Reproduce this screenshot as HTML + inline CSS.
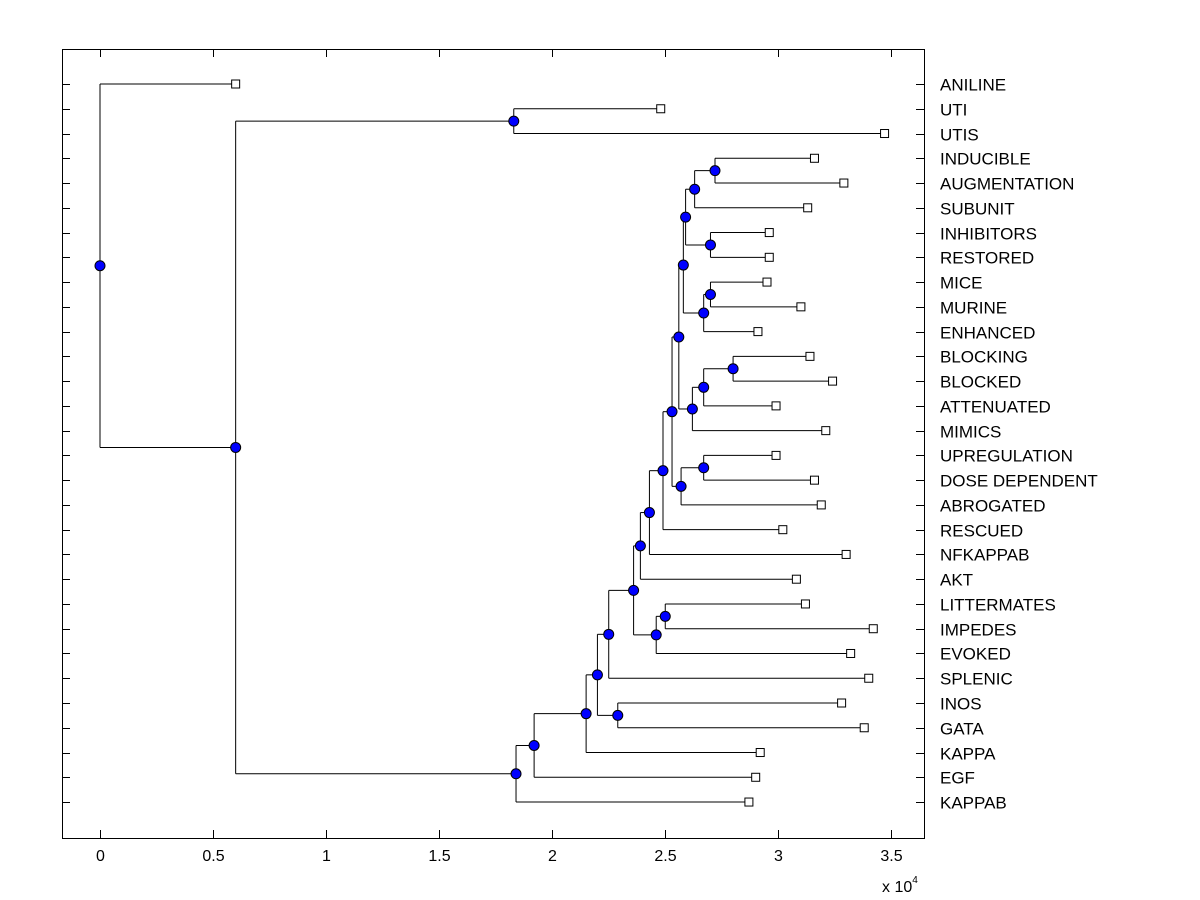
<!DOCTYPE html>
<html><head><meta charset="utf-8"><style>body{margin:0;background:#fff}svg{display:block}text{font-family:"Liberation Sans",Arial,sans-serif;font-size:16px;fill:#000}</style></head>
<body>
<svg id="chart" width="1200" height="900" viewBox="0 0 1200 900"></svg>
<script>
const leafLabels = ["ANILINE","UTI","UTIS","INDUCIBLE","AUGMENTATION","SUBUNIT","INHIBITORS","RESTORED","MICE","MURINE","ENHANCED","BLOCKING","BLOCKED","ATTENUATED","MIMICS","UPREGULATION","DOSE DEPENDENT","ABROGATED","RESCUED","NFKAPPAB","AKT","LITTERMATES","IMPEDES","EVOKED","SPLENIC","INOS","GATA","KAPPA","EGF","KAPPAB"];
const leafValues = [0.60,2.48,3.47,3.16,3.29,3.13,2.96,2.96,2.95,3.10,2.91,3.14,3.24,2.99,3.21,2.99,3.16,3.19,3.02,3.30,3.08,3.12,3.42,3.32,3.40,3.28,3.38,2.92,2.90,2.87];
// internal nodes: [value, child, child]; numbers = leaf index
const tree = [0.0, 0, [0.60,
  [1.83, 1, 2],
  [1.84, [1.92, [2.15, [2.20, [2.25, [2.36, [2.39, [2.43, [2.49, [2.53,
      [2.56, [2.58, [2.59, [2.63, [2.72, 3, 4], 5], [2.70, 6, 7]], [2.67, [2.70, 8, 9], 10]],
              [2.62, [2.67, [2.80, 11, 12], 13], 14]],
      [2.57, [2.67, 15, 16], 17]], 18], 19], 20],
      [2.46, [2.50, 21, 22], 23]], 24], [2.29, 25, 26]], 27], 28], 29]]];
const xTicks = [0,0.5,1,1.5,2,2.5,3,3.5];
const xTickLabels = ["0","0.5","1","1.5","2","2.5","3","3.5"];

const svg = document.getElementById('chart');
const NS = 'http://www.w3.org/2000/svg';
const L = 62, R = 924, T = 49, B = 838;
const xs = v => 100 + v * 226.1;
const ys = i => 84 + i * 24.76;
function mk(tag, attrs, parent) {
  const e = document.createElementNS(NS, tag);
  for (const k in attrs) e.setAttribute(k, attrs[k]);
  (parent || svg).appendChild(e); return e;
}
const lines = mk('g', {stroke:'#000','stroke-width':1,fill:'none'});


const marks = mk('g', {});


const nodes = [];
function draw(n) {
  if (typeof n === 'number') {
    const p = {x: xs(leafValues[n]), y: ys(n), leaf: n};
    nodes.push(p); return p;
  }
  const x = xs(n[0]);
  const kids = [draw(n[1]), draw(n[2])];
  const y = (kids[0].y + kids[1].y) / 2;
  mk('line', {x1:x, y1:kids[0].y, x2:x, y2:kids[1].y}, lines);
  kids.forEach(k => mk('line', {x1:x, y1:k.y, x2:k.x, y2:k.y}, lines));
  const p = {x, y}; nodes.push(p); return p;
}
draw(tree);
nodes.forEach(p => {
  if (p.leaf !== undefined) {
    const r = mk('rect', {x:p.x-4, y:p.y-4, width:8, height:8, fill:'#fff', stroke:'#000','stroke-width':1}, marks);
    
    
  } else {
    const c = mk('circle', {cx:p.x, cy:p.y, r:5, fill:'#0000ff', stroke:'#000','stroke-width':1}, marks);
    
    
  }
});
const ax = mk('rect', {x:L+0.5, y:T+0.5, width:R-L, height:B-T, fill:'none', stroke:'#000','stroke-width':1});


const ticks = mk('g', {stroke:'#000','stroke-width':1});


xTicks.forEach((v, i) => {
  const x = Math.round(xs(v)) + 0.5;
  mk('line', {x1:x, y1:B, x2:x, y2:B-8}, ticks);
  mk('line', {x1:x, y1:T, x2:x, y2:T+8}, ticks);
  const t = mk('text', {x:x, y:B+23, 'text-anchor':'middle'});
  t.textContent = xTickLabels[i];
  
  
});
leafLabels.forEach((lab, i) => {
  const y = Math.round(ys(i)) + 0.5;
  mk('line', {x1:L, y1:y, x2:L+8, y2:y}, ticks);
  mk('line', {x1:R, y1:y, x2:R-8, y2:y}, ticks);
  const t = mk('text', {x:940, y:y+6, 'font-size':17, style:'font-size:17px'});
  t.textContent = lab;
  
  
});
const ex = mk('text', {x:882, y:892, 'font-size':16});
ex.innerHTML = 'x 10<tspan dy="-9" font-size="10">4</tspan>';


</script>
</body></html>
